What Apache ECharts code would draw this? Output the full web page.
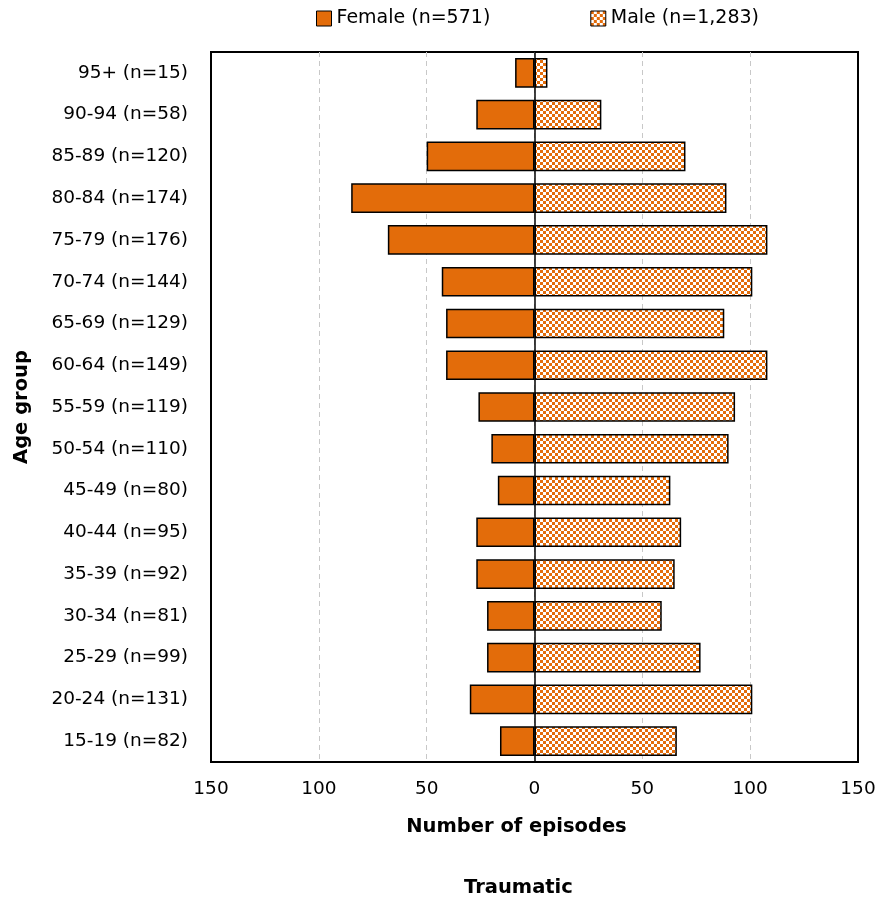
<!DOCTYPE html>
<html>
<head>
<meta charset="utf-8">
<script src="https://cdn.jsdelivr.net/npm/echarts@6/dist/echarts.min.js"></script>
<style>html,body{margin:0;padding:0;background:#fff;overflow:hidden}#c{width:875px;height:901px}</style>
</head>
<body>
<div id="c"></div>
<script>
const ageGroups = ['95+ (n=15)','90-94 (n=58)','85-89 (n=120)','80-84 (n=174)','75-79 (n=176)','70-74 (n=144)','65-69 (n=129)','60-64 (n=149)','55-59 (n=119)','50-54 (n=110)','45-49 (n=80)','40-44 (n=95)','35-39 (n=92)','30-34 (n=81)','25-29 (n=99)','20-24 (n=131)','15-19 (n=82)'];
const femaleValues = [9,27,50,85,68,43,41,41,26,20,17,27,27,22,22,30,16];
const maleValues = [6,31,70,89,108,101,88,108,93,90,63,68,65,59,77,101,66];
const femaleName = 'Female (n=571)';
const maleName = 'Male (n=1,283)';

const ORANGE = '#E36C0A';
const FONT = 'DejaVu Sans';

const pc = document.createElement('canvas');
pc.width = 6; pc.height = 6;
const g = pc.getContext('2d');
g.fillStyle = '#ffffff'; g.fillRect(0,0,6,6);
g.fillStyle = ORANGE; g.fillRect(0,0,3,3); g.fillRect(3,3,3,3);
const malePattern = {image: pc, repeat: 'repeat'};

const chart = echarts.init(document.getElementById('c'), null, {renderer: 'canvas'});
chart.setOption({
  animation: false,
  textStyle: {fontFamily: FONT},
  title: {
    text: 'Traumatic', left: 459, top: 873,
    textStyle: {fontFamily: FONT, fontSize: 19.5, fontWeight: 'bold', color: '#000'}
  },
  legend: {
    top: 4, left: 311, itemGap: 100, itemWidth: 15, itemHeight: 15,
    textStyle: {fontFamily: FONT, fontSize: 19, color: '#000'},
    data: [
      {name: femaleName, icon: 'rect', itemStyle: {color: ORANGE, borderColor: '#000', borderWidth: 1}},
      {name: maleName, icon: 'rect', itemStyle: {color: malePattern, borderColor: '#000', borderWidth: 1}}
    ]
  },
  grid: {left: 211, right: 17, top: 52, bottom: 139, show: true, borderColor: '#000', borderWidth: 2, containLabel: false, outerBoundsMode: 'none'},
  xAxis: {
    type: 'value', min: -150, max: 150, interval: 50,
    name: 'Number of episodes', nameLocation: 'middle', nameGap: 55,
    nameTextStyle: {fontFamily: FONT, fontSize: 19.5, fontWeight: 'bold', color: '#000', padding: [0, 36, 0, 0]},
    axisLine: {show: false}, axisTick: {show: false},
    axisLabel: {fontFamily: FONT, fontSize: 18.5, color: '#000', margin: 18, formatter: v => Math.abs(v)},
    splitLine: {show: true, showMinLine: false, showMaxLine: false, lineStyle: {type: [5,4], color: '#c8c8c8', width: 1}}
  },
  yAxis: {
    type: 'category', data: ageGroups, inverse: true,
    name: 'Age group', nameLocation: 'middle', nameRotate: 90, nameGap: 179,
    nameTextStyle: {fontFamily: FONT, fontSize: 19.5, fontWeight: 'bold', color: '#000'},
    axisLine: {show: true, onZero: true, lineStyle: {color: '#000', width: 1.5}},
    axisTick: {show: false},
    axisLabel: {fontFamily: FONT, fontSize: 18.5, color: '#000', margin: 23}
  },
  series: [
    {name: femaleName, type: 'bar', stack: 'p', barCategoryGap: '29%',
     data: femaleValues.map(v => -v),
     itemStyle: {color: ORANGE, borderColor: '#000', borderWidth: 1.5}},
    {name: maleName, type: 'bar', stack: 'p', barCategoryGap: '29%',
     data: maleValues,
     itemStyle: {color: malePattern, borderColor: '#000', borderWidth: 1.5}}
  ]
});
</script>
</body>
</html>
